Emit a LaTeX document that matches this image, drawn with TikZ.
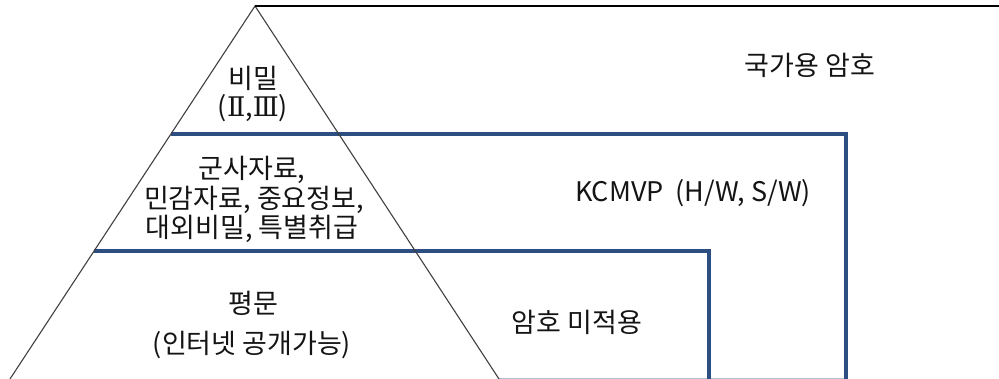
\documentclass[tikz,border=0pt]{standalone}
\usepackage{fontspec}
\setmainfont{Noto Sans CJK KR}
\newfontfamily\romfont{DejaVu Serif}
\definecolor{navy}{RGB}{44,78,128}
\definecolor{textc}{RGB}{20,20,20}
\begin{document}
\begin{tikzpicture}[x=1pt,y=1pt,
  tri/.style={draw=black!75,line width=1.1pt},
  topline/.style={draw=black,line width=1.6pt},
  blueline/.style={draw=navy,line width=3.2pt,line join=miter},
  lab/.style={font=\fontsize{27}{33}\selectfont,text=textc,inner sep=0pt,align=center}]
\useasboundingbox (0,0) rectangle (999,379);
% coordinates (y = 379 - pixel y)
\coordinate (apex) at (255,373);
\coordinate (bl) at (10,0);
\coordinate (br) at (499,0);
\coordinate (topR) at (999,373);
\coordinate (b1L) at (171,245);
\coordinate (b1R) at (846,245);
\coordinate (b1B) at (846,0);
\coordinate (b2L) at (94,128);
\coordinate (b2R) at (709,128);
\coordinate (b2B) at (709,0);
% faint bottom edge
\draw[draw=navy!35,line width=1pt] (br) -- (b1B);
% blue boundaries
\draw[blueline] (b1L) -- (b1R) -- (b1B);
\draw[blueline] (b2L) -- (b2R) -- (b2B);
% triangle
\draw[tri] (bl) -- (apex) -- (br);
\draw[topline] (apex) -- (topR);
% labels
\node[lab] (secret) at (253,301) {비밀};
\node[lab] (secretlv) at (253,271) {({\romfont Ⅱ},{\romfont Ⅲ})};
\node[lab] (mil1) at (252,209) {군사자료,};
\node[lab] (mil2) at (254,179) {민감자료, 중요정보,};
\node[lab] (mil3) at (252,150) {대외비밀, 특별취급};
\node[lab] (plain1) at (253,76) {평문};
\node[lab] (plain2) at (252,34) {(인터넷 공개가능)};
\node[lab] (national) at (810,314) {국가용 암호};
\node[lab] (kcmvp) at (693,186) {KCMVP\ \ (H/W, S/W)};
\node[lab] (none) at (577,57) {암호 미적용};
\end{tikzpicture}
\end{document}
